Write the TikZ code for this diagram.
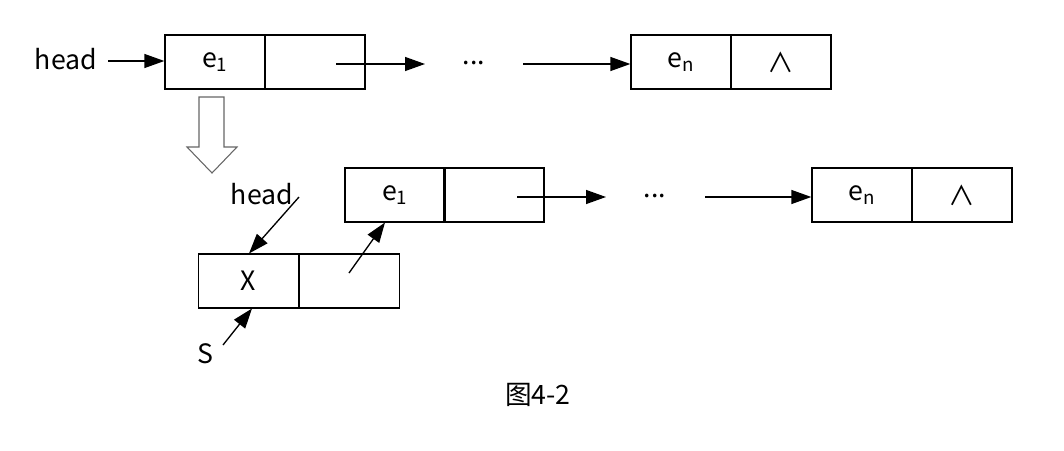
\documentclass[tikz,border=0pt]{standalone}
\usepackage{fontspec}
\setmainfont{Noto Sans CJK SC}
\usetikzlibrary{arrows.meta}
\begin{document}
\begin{tikzpicture}[x=0.75pt,y=-0.75pt,
  cell/.style={draw,line width=1pt,minimum width=75pt,minimum height=40.5pt,inner sep=0pt,font=\fontsize{20}{22}\selectfont},
  lbl/.style={inner sep=0pt,font=\fontsize{20}{22}\selectfont},
  arr/.style={line width=1pt,-{Triangle[length=15pt,width=10.5pt]}}]
\useasboundingbox (0,0) rectangle (1064,450);
% top row
\node[cell] (a1) at (215,62) {e\textsubscript{1}};
\node[cell] (a2) at (315,62) {};
\node[cell] (an1) at (681,62) {e\textsubscript{n}};
\node[cell] (an2) at (781,62) {∧};
\node[lbl] (h1) at (66,59) {head};
\node[lbl] (d1) at (474,63) {...};
\coordinate (h1s) at (108,61);
\coordinate (p1) at (336,64);
\coordinate (q1) at (425,64);
\coordinate (r1) at (523,64);
\draw[arr] (h1s) -- (a1.west |- h1s);
\draw[arr] (p1) -- (q1);
\draw[arr] (r1) -- (an1.west |- r1);
% hollow arrow
\draw[line width=0.8pt,draw=black!60] (199,97) -- (224,97) -- (224,147) -- (237,147) -- (212,173) -- (187,147) -- (199,147) -- cycle;
% second row
\node[cell] (b1) at (395,195) {e\textsubscript{1}};
\node[cell] (b2) at (494,195) {};
\node[cell] (bn1) at (862,195) {e\textsubscript{n}};
\node[cell] (bn2) at (962,195) {∧};
\node[lbl] (d2) at (655,196) {...};
\coordinate (p2) at (517,197);
\coordinate (q2) at (606,197);
\coordinate (r2) at (705,197);
\draw[arr] (p2) -- (q2);
\draw[arr] (r2) -- (bn1.west |- r2);
% new node
\node[cell] (x1) at (248.5,281) {X};
\node[cell] (x2) at (349.5,281) {};
\coordinate (s1) at (349,273);
\coordinate (s2) at (385,222.5);
\draw[arr] (s1) -- (s2);
\node[lbl] (h2) at (262,194) {head};
\coordinate (hs) at (299,197);
\coordinate (ht) at (249,253.5);
\draw[arr] (hs) -- (ht);
\node[lbl] (s) at (205,354) {S};
\coordinate (ss) at (223,345);
\coordinate (st) at (252,308.5);
\draw[arr] (ss) -- (st);
% caption
\node[lbl] (cap) at (538,395) {图4-2};
\end{tikzpicture}
\end{document}
